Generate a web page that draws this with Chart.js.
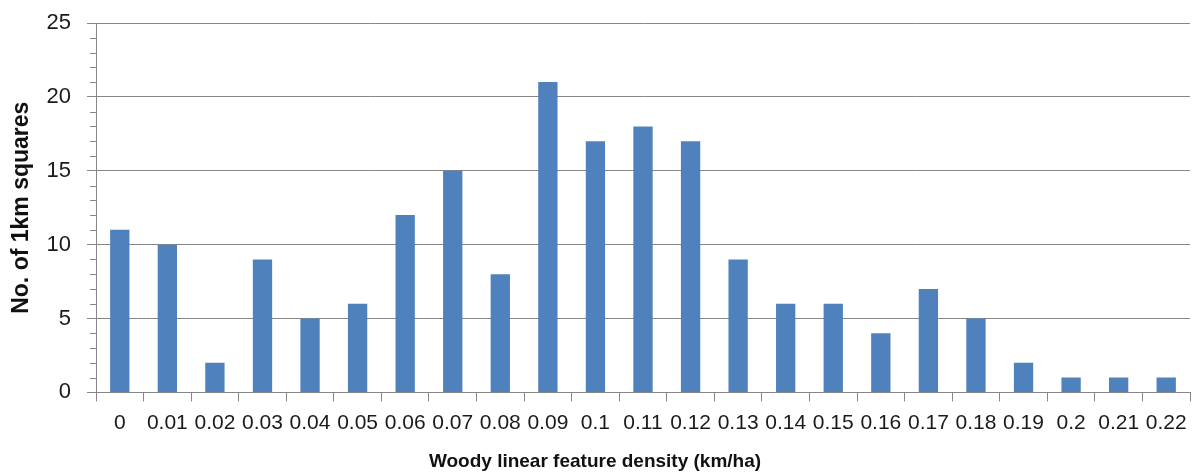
<!DOCTYPE html>
<html>
<head>
<meta charset="utf-8">
<script src="https://cdn.jsdelivr.net/npm/chart.js@4.4.1/dist/chart.umd.min.js"></script>
<style>
  html, body { margin: 0; padding: 0; background: #fff; }
  #wrap { width: 1196px; height: 475px; position: relative; }
</style>
</head>
<body>
<div id="wrap"><canvas id="c"></canvas></div>
<script>
const categories = ['0','0.01','0.02','0.03','0.04','0.05','0.06','0.07','0.08','0.09','0.1','0.11','0.12','0.13','0.14','0.15','0.16','0.17','0.18','0.19','0.2','0.21','0.22'];
const counts = [11,10,2,9,5,6,12,15,8,21,17,18,17,9,6,6,4,7,5,2,1,1,1];
const yMax = 25;
const yMajorStep = 5;
const yMinorStep = 1;
const xTitle = 'Woody linear feature density (km/ha)';
const yTitle = 'No. of 1km squares';

const GRID = '#868686';
const FONT = "'Liberation Sans', Arial, sans-serif";

const minorTicks = {
  id: 'minorTicks',
  afterDraw(chart) {
    const y = chart.scales.y;
    const ctx = chart.ctx;
    ctx.save();
    ctx.strokeStyle = GRID;
    ctx.lineWidth = 1;
    for (let v = 0; v <= yMax; v += yMinorStep) {
      if (v % yMajorStep === 0) continue;
      const py = Math.round(y.getPixelForValue(v)) + 0.5;
      ctx.beginPath();
      ctx.moveTo(chart.chartArea.left - 6, py);
      ctx.lineTo(chart.chartArea.left, py);
      ctx.stroke();
    }
    ctx.restore();
  }
};

new Chart(document.getElementById('c'), {
  type: 'bar',
  data: {
    labels: categories,
    datasets: [{
      data: counts,
      backgroundColor: '#4F81BD',
      borderWidth: 0,
      categoryPercentage: 1.0,
      barPercentage: 0.406
    }]
  },
  options: {
    responsive: true,
    maintainAspectRatio: false,
    animation: false,
    layout: { padding: { top: 23, right: 6, left: 0, bottom: 0 } },
    plugins: {
      legend: { display: false },
      tooltip: { enabled: false },
      title: {
        display: true, position: 'bottom', text: xTitle, color: '#111',
        font: { family: FONT, size: 19, weight: 'bold' },
        padding: { top: 0, bottom: 2 }
      }
    },
    scales: {
      x: {
        grid: { display: true, drawOnChartArea: false, color: GRID, tickLength: 9, offset: true },
        border: { display: true, color: GRID },
        ticks: { autoSkip: false, maxRotation: 0, minRotation: 0, padding: 9, color: '#1a1a1a', font: { family: FONT, size: 21 } },
        afterFit(scale) { scale.height = 57.8; }
      },
      y: {
        min: 0, max: yMax,
        grid: { color: GRID, tickLength: 9 },
        border: { display: true, color: GRID },
        ticks: { stepSize: yMajorStep, padding: 16, color: '#1a1a1a', font: { family: FONT, size: 22 } },
        title: { display: true, text: yTitle, color: '#111', font: { family: FONT, size: 23, weight: 'bold' }, padding: { top: 8, bottom: 0 } },
        afterFit(scale) { scale.width = 96; scale.paddingTop = 0; scale.paddingBottom = 0; }
      }
    }
  },
  plugins: [minorTicks]
});
</script>
</body>
</html>
